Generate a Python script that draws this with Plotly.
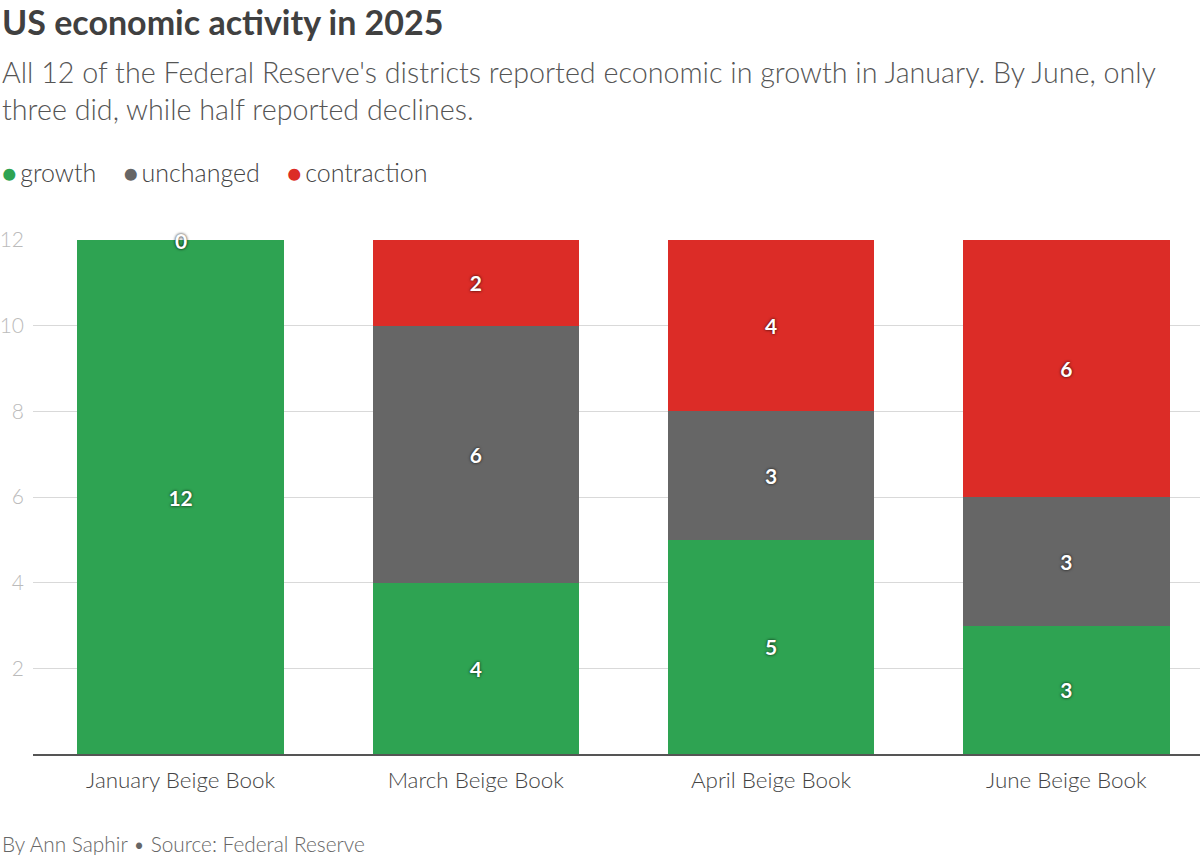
import plotly.graph_objects as go

categories = ["January Beige Book", "March Beige Book", "April Beige Book", "June Beige Book"]
growth = [12, 4, 5, 3]
unchanged = [0, 6, 3, 3]
contraction = [0, 2, 4, 6]
series_names = ["growth", "unchanged", "contraction"]
series_colors = ["#2ea352", "#666666", "#dc2c27"]
y_ticks = [2, 4, 6, 8, 10, 12]

FONT = "Lato"
series_values = [growth, unchanged, contraction]

fig = go.Figure()
for name, vals, col in zip(series_names, series_values, series_colors):
    fig.add_trace(go.Bar(
        x=categories, y=vals, name=name, marker=dict(color=col, line=dict(width=0)),
        text=[str(v) if v > 0 else "" for v in vals],
        textposition="inside", insidetextanchor="middle", textangle=0,
        textfont=dict(family=FONT, size=21, color="white", weight="bold",
                      shadow="0px 0px 3px rgba(0,0,0,0.85)"),
        showlegend=False, hovertemplate="%{x}<br>" + name + ": %{y}<extra></extra>",
    ))

PLOT_TOP, PLOT_BOTTOM, H, W, L = 240, 101, 855, 1200, 30

def paper_y(px):
    plot_h = H - PLOT_TOP - PLOT_BOTTOM
    return (H - PLOT_BOTTOM - px) / plot_h

X0 = -L / (W - L)

ann = []
# zero-value labels at the top of the stack
for i, cat in enumerate(categories):
    total = sum(vals[i] for vals in series_values)
    if any(vals[i] == 0 for vals in series_values):
        ann.append(dict(x=cat, y=total, xref="x", yref="y", text="0", showarrow=False,
                        font=dict(family=FONT, size=21, color="white", weight="bold",
                                  shadow="0px 0px 3px rgba(0,0,0,1)")))

legend_html = "&nbsp;&nbsp;&nbsp;&nbsp;".join(
    f"<span style='color:{c}'>●</span>&#8201;{n}" for n, c in zip(series_names, series_colors))

ann.append(dict(x=X0, y=paper_y(22), xref="paper", yref="paper", xanchor="left", yanchor="middle",
                xshift=-3, showarrow=False, text="<b>US economic activity in 2025</b>",
                font=dict(family=FONT, size=34, color="#404040")))
ann.append(dict(x=X0, y=paper_y(91), xref="paper", yref="paper", xanchor="left", yanchor="middle",
                xshift=-3, showarrow=False, align="left",
                text="All 12 of the Federal Reserve's districts reported economic in growth in January. By June, only<br>three did, while half reported declines.",
                font=dict(family=FONT, size=28.7, color="#555555", weight=300)))
ann.append(dict(x=X0, y=paper_y(172), xref="paper", yref="paper", xanchor="left", yanchor="middle",
                xshift=-3, showarrow=False, text=legend_html,
                font=dict(family=FONT, size=25, color="#444444", weight=300)))
ann.append(dict(x=X0, y=paper_y(843), xref="paper", yref="paper", xanchor="left", yanchor="middle",
                xshift=-3, showarrow=False, text="By Ann Saphir • Source: Federal Reserve",
                font=dict(family=FONT, size=20.8, color="#666666", weight=300)))

fig.update_layout(
    width=W, height=H,
    margin=dict(l=L, r=0, t=PLOT_TOP, b=PLOT_BOTTOM),
    paper_bgcolor="white", plot_bgcolor="white",
    barmode="stack", bargap=0.30,
    font=dict(family=FONT, color="#444"),
    xaxis=dict(range=[-0.5, 3.453], showline=True, linecolor="#555", linewidth=2,
               tickfont=dict(family=FONT, size=22.4, color="#444", weight=300), ticks="", showgrid=False,
               ticklabelstandoff=5),
    yaxis=dict(range=[0, 12], tickvals=y_ticks, showgrid=True, gridcolor="#d9d9d9", gridwidth=1,
               zeroline=False, tickfont=dict(family=FONT, size=21, color="#bbbbbb", weight=300),
               ticks="", ticklabelstandoff=8),
    showlegend=False,
    annotations=ann,
)

fig.write_html("out.html")
